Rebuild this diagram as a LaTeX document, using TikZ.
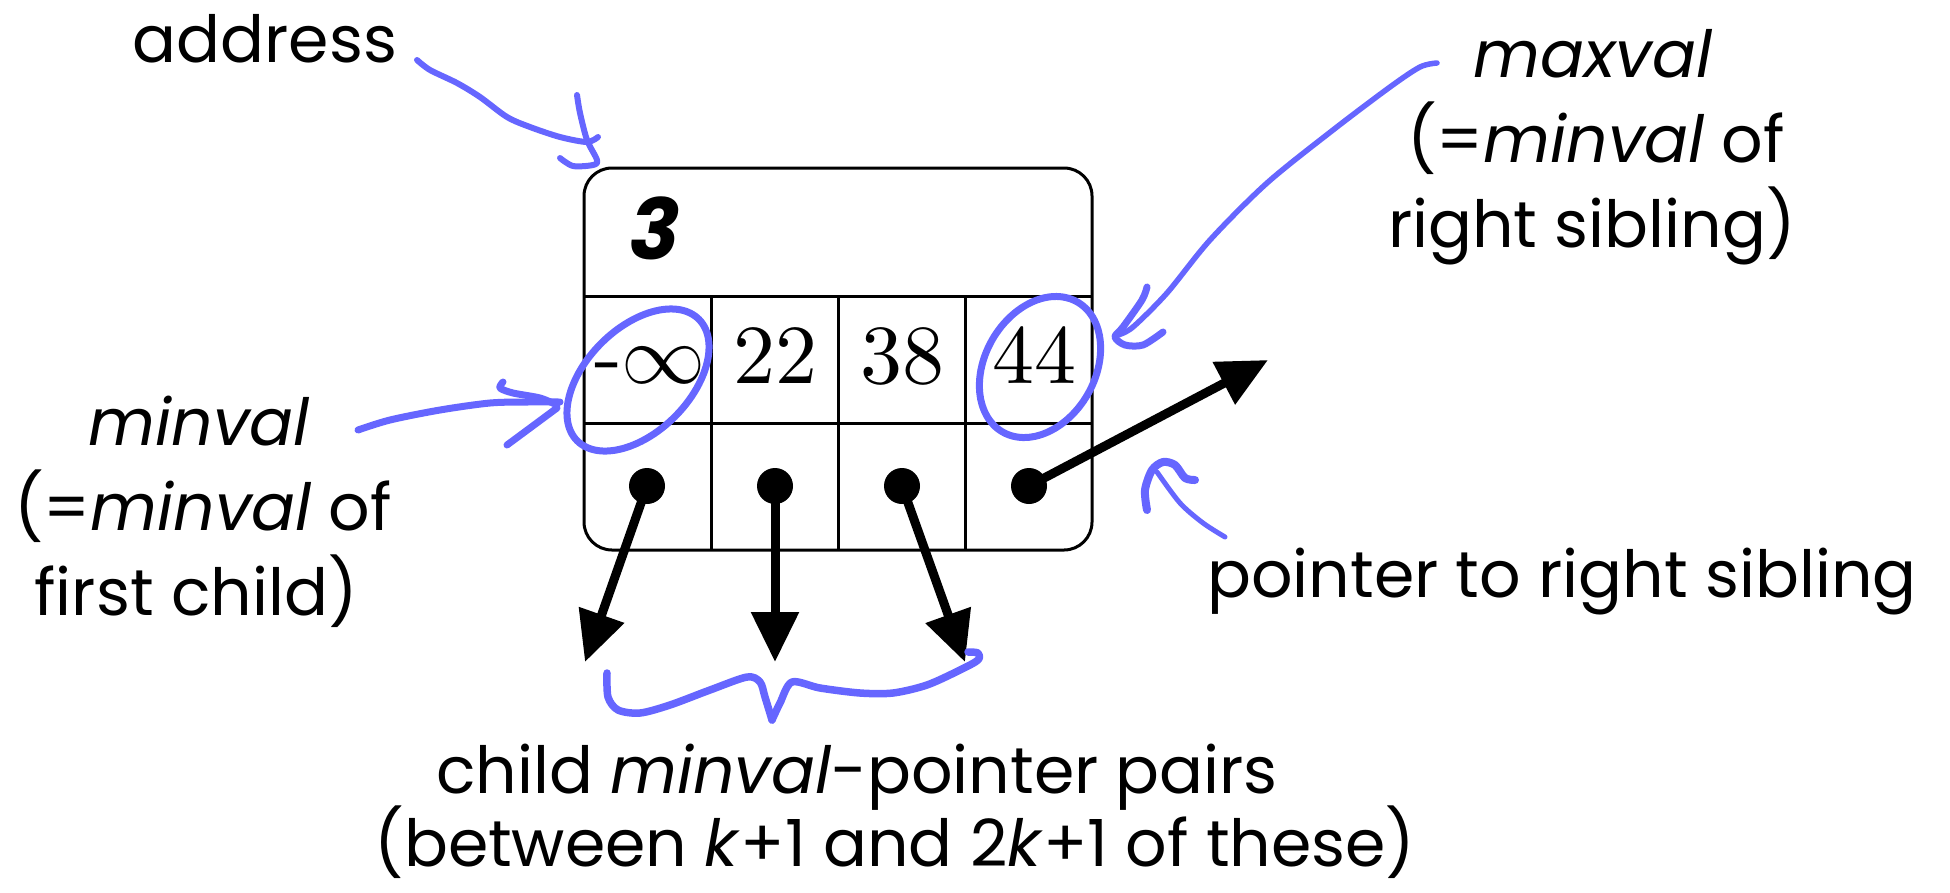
\RequirePackage{fix-cm}
\documentclass[tikz,border=0pt]{standalone}
\usepackage{fontspec}
\newfontfamily\labelfont{Poppins}
\newfontfamily\numfont{lmroman10-regular}[Extension=.otf]
\usetikzlibrary{arrows.meta}
\definecolor{ink}{RGB}{102,102,255}

\begin{document}
\begin{tikzpicture}[x=1pt,y=-1pt,
  lbl/.style={font=\labelfont\fontsize{65}{80}\selectfont, inner sep=0pt, anchor=base},
  num/.style={font=\numfont\fontsize{84}{84}\selectfont, inner sep=0pt, anchor=base},
  pen/.style={draw=ink, line width=7pt, line cap=round, line join=round},
  ptr/.style={line width=9pt, -{Triangle[length=50pt,width=46pt]}},
  dot/.style={circle, fill, inner sep=0pt, minimum size=36pt},
  frame/.style={line width=3pt}]
\useasboundingbox (0,0) rectangle (1950,892);

% node record: header row, key row, pointer row
\draw[frame, rounded corners=28pt] (584,168) rectangle (1092,550);
\draw[frame] (584,296) -- (1092,296) (584,423) -- (1092,423);
\draw[frame] (711,296) -- (711,550) (838,296) -- (838,550) (965,296) -- (965,550);

\node[font=\labelfont\bfseries\itshape\fontsize{84}{84}\selectfont, inner sep=0pt, anchor=base] (addr) at (655,259) {3};
\node[num] (k1) at (650,383) {-$\infty$};
\node[num] (k2) at (775,383) {22};
\node[num] (k3) at (902,383) {38};
\node[num] (k4) at (1034,383) {44};

% child and sibling pointers
\node[dot] (p1) at (647,486) {};
\node[dot] (p2) at (775,486) {};
\node[dot] (p3) at (902,486) {};
\node[dot] (p4) at (1029,486) {};
\coordinate (c1) at (585,662);
\coordinate (c2) at (775,662);
\coordinate (c3) at (965,662);
\coordinate (sib) at (1268,360);
\draw[ptr] (p1.center) -- (c1);
\draw[ptr] (p2.center) -- (c2);
\draw[ptr] (p3.center) -- (c3);
\draw[ptr] (p4.center) -- (sib);

% labels
\node[lbl] (address) at (265,62) {address};
\node[lbl] (max1) at (1593,77) {\itshape maxval};
\node[lbl] (max2) at (1596,162) {(=\textit{minval} of};
\node[lbl] (max3) at (1592,247) {right sibling)};
\node[lbl] (min1) at (199,445) {\itshape minval};
\node[lbl] (min2) at (203,530) {(=\textit{minval} of};
\node[lbl] (min3) at (196,615) {first child)};
\node[lbl] (sibtext) at (1562,597) {pointer to right sibling};
\node[lbl] (pairs1) at (857,793) {child \textit{minval}-pointer pairs};
\node[lbl] (pairs2) at (895,866) {(between \textit{k}+1 and 2\textit{k}+1 of these)};

% hand-drawn annotations
\draw[pen] plot[smooth, domain=-15:350, samples=60]
  ({638 + 86*cos(\x)*0.7071 + 52*sin(\x)*0.7071}, {380 - 86*cos(\x)*0.7071 + 52*sin(\x)*0.7071});
\draw[pen] plot[smooth, domain=-15:350, samples=60]
  ({1040 + 75*cos(\x)*0.5 + 55*sin(\x)*0.866}, {367 - 75*cos(\x)*0.866 + 55*sin(\x)*0.5});

% address arrow
\draw[pen, line width=6pt] plot[smooth] coordinates {(417,60) (430,70) (457,83) (480,97) (507,117) (530,127) (560,137) (587,142) (598,137)};
\draw[pen, line width=6pt] plot[smooth] coordinates {(577,95) (580,113) (587,140) (597,160) (593,165) (573,166) (560,158)};

% maxval arrow
\draw[pen, line width=5.5pt] plot[smooth] coordinates {(1437,63) (1420,67) (1390,87) (1333,130) (1267,183) (1210,240) (1167,293) (1133,327) (1118,335)};
\draw[pen] plot[smooth] coordinates {(1147,287) (1142,300) (1123,327) (1115,337) (1125,345) (1143,345) (1163,332)};

% minval arrow
\draw[pen] plot[smooth] coordinates {(358,430) (390,420) (440,410) (490,403) (527,402) (560,402)};
\draw[pen] plot[smooth] coordinates {(503,382) (500,388) (513,393) (540,398) (557,405)};
\draw[pen] plot[smooth] coordinates {(557,408) (530,428) (507,445)};

% sibling pointer hook
\draw[pen, line width=5pt] plot[smooth] coordinates {(1225,537) (1203,523) (1180,503) (1157,472)};
\draw[pen, line width=8pt] plot[smooth] coordinates {(1147,510) (1145,490) (1152,470) (1163,462) (1175,465) (1185,478) (1195,480)};

% brace under the child pointers
\draw[pen, line width=7.5pt] plot[smooth] coordinates {(607,673) (608,697) (618,710) (640,713) (670,705) (710,690) (747,677) (760,682) (765,697) (772,720)};
\draw[pen, line width=7.5pt] plot[smooth] coordinates {(772,720) (780,703) (792,682) (820,688) (860,693) (893,693) (927,685) (960,670) (978,660) (978,653) (968,652)};
\end{tikzpicture}
\end{document}
